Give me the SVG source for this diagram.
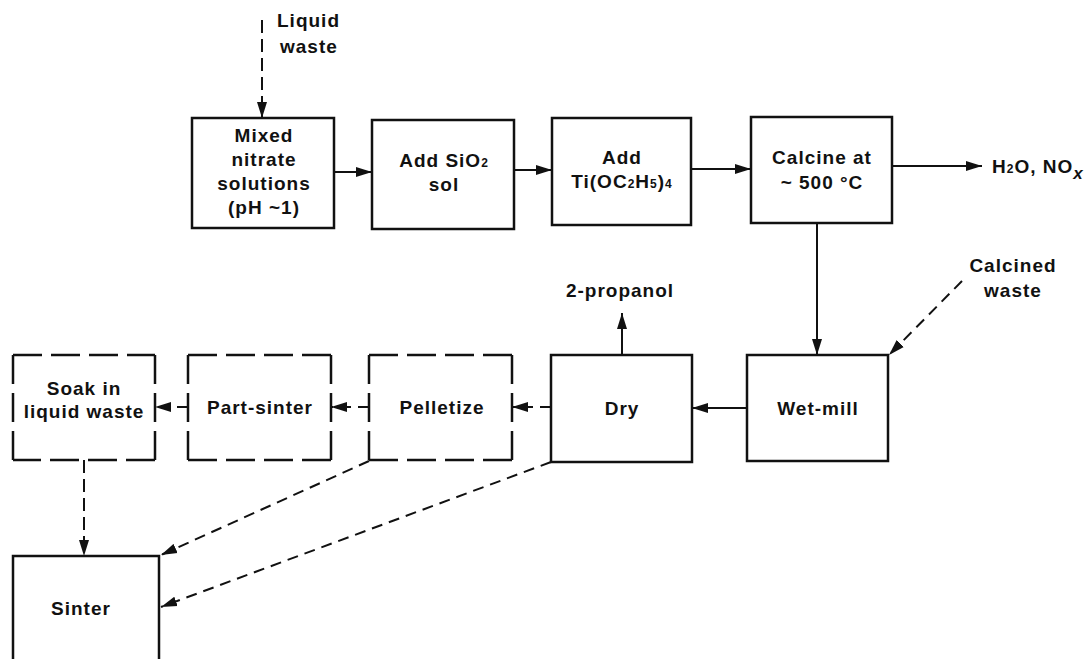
<svg xmlns="http://www.w3.org/2000/svg" width="1092" height="659" viewBox="0 0 1092 659">
<style>
.box{fill:none;stroke:#111;stroke-width:2.5}
.dbox{fill:none;stroke:#111;stroke-width:2.5;stroke-dasharray:29 9}
.ln{fill:none;stroke:#111;stroke-width:2}
.dl{fill:none;stroke:#111;stroke-width:2;stroke-dasharray:11 7}
.dv{fill:none;stroke:#111;stroke-width:2;stroke-dasharray:13 6}
.t{font-family:"Liberation Sans",Arial,sans-serif;font-weight:bold;font-size:19px;letter-spacing:1px;fill:#111}
.m{text-anchor:middle}
.sub{font-size:12px}
</style>
<defs>
<marker id="ah" markerUnits="userSpaceOnUse" markerWidth="16" markerHeight="11" refX="16" refY="5.5" orient="auto">
<path d="M0,0.5 L16,5.5 L0,10.5 z" fill="#111"/>
</marker>
</defs>
<rect width="1092" height="659" fill="#fff"/>
<g id="connectors">
<line class="ln" x1="334" y1="172" x2="372" y2="172" marker-end="url(#ah)"/>
<line class="ln" x1="514" y1="170" x2="552" y2="170" marker-end="url(#ah)"/>
<line class="ln" x1="691" y1="169" x2="751" y2="169" marker-end="url(#ah)"/>
<line class="ln" x1="892" y1="166" x2="982" y2="166" marker-end="url(#ah)"/>
<line class="dv" x1="262" y1="20" x2="262" y2="118" marker-end="url(#ah)"/>
<line class="ln" x1="817" y1="223" x2="817" y2="355" marker-end="url(#ah)"/>
<line class="dl" x1="962" y1="281" x2="889" y2="355" marker-end="url(#ah)"/>
<line class="ln" x1="747" y1="408" x2="692" y2="408" marker-end="url(#ah)"/>
<line class="ln" x1="622" y1="355" x2="622" y2="313" marker-end="url(#ah)"/>
<line class="dl" x1="551" y1="407" x2="512" y2="407" marker-end="url(#ah)"/>
<line class="dl" x1="369" y1="407" x2="331" y2="407" marker-end="url(#ah)"/>
<line class="dl" x1="188" y1="407" x2="155" y2="407" marker-end="url(#ah)"/>
<line class="dv" x1="84" y1="460" x2="84" y2="556" marker-end="url(#ah)"/>
<line class="dl" x1="369" y1="461" x2="161" y2="555" marker-end="url(#ah)"/>
<line class="dl" x1="551" y1="462" x2="161" y2="607" marker-end="url(#ah)"/>
</g>
<g id="liquid-waste-label">
<text class="t" x="277" y="27">Liquid</text>
<text class="t" x="280" y="53">waste</text>
</g>
<g id="mixed-nitrate">
<rect class="box" x="192" y="118" width="142" height="110"/>
<text class="t m" x="264" y="142">Mixed</text>
<text class="t m" x="264" y="166">nitrate</text>
<text class="t m" x="264" y="190">solutions</text>
<text class="t m" x="264" y="214">(pH ~1)</text>
</g>
<g id="add-sio2">
<rect class="box" x="372" y="120" width="142" height="109"/>
<text class="t m" x="444" y="167">Add SiO<tspan class="sub">2</tspan></text>
<text class="t m" x="444" y="191">sol</text>
</g>
<g id="add-ti">
<rect class="box" x="552" y="118" width="139" height="107"/>
<text class="t m" x="622" y="164">Add</text>
<text class="t m" x="622" y="188">Ti(OC<tspan class="sub">2</tspan>H<tspan class="sub">5</tspan>)<tspan class="sub">4</tspan></text>
</g>
<g id="calcine">
<rect class="box" x="751" y="117" width="141" height="106"/>
<text class="t m" x="822" y="164">Calcine at</text>
<text class="t m" x="822" y="189">~ 500 °C</text>
</g>
<g id="h2o-nox">
<text class="t" x="992" y="173">H<tspan class="sub">2</tspan>O, NO<tspan dy="6" font-style="italic" font-size="17px">x</tspan></text>
</g>
<g id="calcined-waste-label">
<text class="t m" x="1013" y="272">Calcined</text>
<text class="t m" x="1013" y="297">waste</text>
</g>
<g id="wet-mill">
<rect class="box" x="747" y="355" width="141" height="106"/>
<text class="t m" x="818" y="415">Wet-mill</text>
</g>
<g id="dry">
<rect class="box" x="551" y="355" width="141" height="107"/>
<text class="t m" x="622" y="415">Dry</text>
</g>
<g id="propanol-label">
<text class="t m" x="620" y="297">2-propanol</text>
</g>
<g id="pelletize">
<path class="dbox" d="M369,355 H512 M512,355 V460 M512,460 H369 M369,460 V355"/>
<text class="t m" x="442" y="414">Pelletize</text>
</g>
<g id="part-sinter">
<path class="dbox" d="M188,355 H331 M331,355 V460 M331,460 H188 M188,460 V355"/>
<text class="t m" x="260" y="414">Part-sinter</text>
</g>
<g id="soak">
<path class="dbox" d="M13,355 H155 M155,355 V460 M155,460 H13 M13,460 V355"/>
<text class="t m" x="84" y="395">Soak in</text>
<text class="t m" x="84" y="418">liquid waste</text>
</g>
<g id="sinter">
<rect class="box" x="13" y="556" width="146" height="120"/>
<text class="t m" x="81" y="615">Sinter</text>
</g>
</svg>
